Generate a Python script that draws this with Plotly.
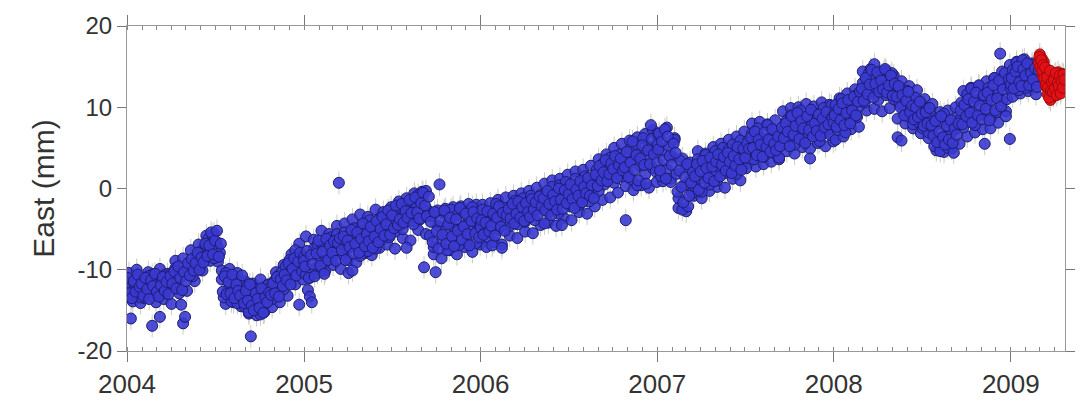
import pandas as pd
import plotly.graph_objects as go

# East component (mm). "a"/"b": 4-day samples from 1 Jan / 3 Jan; "c": 8-day samples from 5 Jan
east_2004a = [-12.3, -11.6, -16.0, -13.1, -11.8, -12.6, -10.9, -13.4, -12.0, -11.5, -12.8, -10.8,
              -12.2, -16.9, -11.6, -13.0, -11.1, -15.8, -12.4, -10.7, -12.9, -11.4, -12.1,
              -10.4, -11.9, -9.8, -11.2, -10.1, -14.3, -16.6, -15.8, -10.6, -9.9,
              -9.6, -10.8, -8.9, -9.7, -8.2, -9.4, -7.6, -8.8, -7.1,
              -6.2, -7.8, -5.7, -8.6, -6.6, -7.3, -7.9,
              -11.2, -13.4, -10.4, -12.6, -11.8, -13.9, -10.9, -12.3, -14.1, -11.5, -12.8,
              -13.0, -14.6, -12.1, -15.2, -18.2, -13.7, -12.4, -14.9, -13.3, -15.5, -12.6, -14.2, -13.1, -11.9,
              -12.2, -13.6, -11.4, -12.5, -10.8, -11.9, -10.3, -12.4, -9.6, -10.9, -8.8, -10.1, -9.3, -7.6,
              -10.4, -14.3, -8.2, -9.5]
east_2004b = [-11.0, -12.9, -13.5, -11.4, -12.7, -10.6, -12.1, -11.7, -13.2, -11.0, -12.4, -13.6,
              -11.3, -12.0, -10.5, -12.7, -13.3, -11.9, -10.9, -12.6, -11.5, -13.0, -10.8,
              -11.7, -10.2, -12.3, -9.6, -11.0, -12.5, -10.3, -11.4, -9.2, -10.7,
              -8.7, -10.1, -9.2, -7.9, -10.0, -8.5, -9.1, -6.8, -8.3,
              -7.0, -5.4, -8.1, -6.4, -5.2, -8.4, -6.8,
              -12.7, -10.8, -13.0, -11.5, -12.9, -10.6, -13.5, -11.8, -12.6, -13.2, -10.7,
              -14.1, -12.6, -13.8, -11.8, -14.4, -15.0, -12.9, -13.6, -14.7, -12.3, -15.3, -13.4, -14.0, -12.8,
              -13.1, -11.7, -12.9, -10.9, -13.3, -11.2, -12.0, -10.6, -11.3, -9.2, -11.8, -9.9, -8.6, -10.7,
              -9.0, -7.9, -10.2, -8.4]
east_2004c = [-10.4, -13.9, -10.0, -14.1, -13.5, -10.3, -10.6, -14.0, -9.9, -13.6, -10.5, -14.2,
              -8.9, -12.9, -8.6, -12.6, -7.6, -11.4, -6.9, -10.1, -5.8, -8.9, -5.5, -9.0,
              -10.1, -14.2, -9.9, -14.0, -10.4, -14.5, -11.4, -15.4, -11.7, -15.6, -11.2, -15.2, -11.8,
              -14.6, -10.3, -14.0, -9.4, -13.2, -8.1, -11.8, -6.8, -11.2]
east_2005a = [-8.9, -10.6, -12.5, -13.3, -14.0, -7.4, -9.8, -6.9, -8.6, -10.2, -7.1, -9.0, -6.5, -8.3,
              -6.0, -8.4, -7.2, -5.6, 0.7,
              -6.8, -8.1, -5.4, -7.5, -10.4, -6.2, -10.1, -4.9, -7.0, -5.8, -8.3, -4.6, -6.6, -5.2, -7.7,
              -3.9, -6.0, -4.8, -7.4, -5.5, -3.7, -6.3, -4.4,
              -5.2, -3.6, -6.0, -4.1, -2.9, -5.3, -3.4, -4.7, -2.5, -5.0, -3.1, -7.3, -2.2, -4.0, -1.6,
              -3.5, -2.4, -0.8, -3.8, -1.3, -9.7, -0.3, -2.7,
              -5.8, -3.4, -7.2, -10.3, -4.6, 0.5, -6.5, -3.0, -5.1, -7.6, -4.2, -2.6, -6.1, -4.9, -3.3,
              -7.0, -5.4, -2.8, -4.5, -6.4, -3.6, -5.0, -2.3, -4.1, -6.7, -3.2, -4.8]
east_2005b = [-9.6, -7.7, -11.0, -8.2, -9.3, -10.8, -8.0, -6.4, -9.5, -7.8, -10.5, -6.2, -8.8, -7.0,
              -7.9, -6.5, -8.9, -6.7, -6.1,
              -7.6, -5.9, -8.8, -6.4, -7.2, -5.1, -8.0, -6.8, -5.4, -7.9, -6.2, -4.3, -7.1, -5.6, -6.5,
              -4.7, -7.3, -5.9, -4.0, -6.6, -5.0, -3.5, -5.8,
              -4.4, -2.7, -5.7, -3.3, -4.9, -2.1, -4.5, -3.8, -1.9, -4.2, -2.8, -3.6, -1.4, -3.0, -4.4,
              -1.1, -2.9, -3.7, -1.8, -0.5, -2.1, -3.4, -1.0,
              -4.1, -6.6, -2.9, -5.3, -7.4, -4.0, -5.7, -2.7, -6.8, -4.4, -3.6, -5.9, -7.1, -3.8, -5.2,
              -2.4, -6.3, -4.7, -3.1, -5.6, -7.0, -4.0, -2.9, -5.5, -3.7, -6.0, -4.3]
east_2005c = [-5.9, -11.0, -6.3, -10.4, -5.2, -10.1, -5.6,
              -9.4, -4.6, -9.9, -4.3, -8.8, -3.8, -9.1, -3.2, -8.0, -3.5, -8.2, -2.6, -7.3, -2.9,
              -6.9, -2.3, -7.4, -1.6, -6.1, -1.2, -6.4, -0.6, -5.1, -0.4, -5.6,
              -3.0, -8.1, -2.7, -8.6, -2.5, -7.6, -2.3, -8.1, -2.2, -7.2, -1.9, -7.8, -2.0, -6.9]
east_2006a = [-4.8, -2.6, -5.5, -3.7, -6.0, -2.9, -7.0, -4.3, -1.9, -5.1, -3.4, -7.3, -4.0, -2.4,
              -3.0, -4.6, -2.2, -3.9, -1.5, -4.4, -2.7, -3.5, -1.2, -4.1, -2.0, -3.2, -0.9, -2.8, -3.9,
              -1.4, -2.5, -0.8,
              -2.1, -4.3, -0.6, -2.9, -1.3, 0.2, -2.4, -1.0, -3.1, 0.4, -4.5, -1.7, 0.8, -0.9, -2.2, 0.1,
              -1.5, 1.2, -0.4, -2.0, 0.6, -1.1, 1.5, -0.2, -1.6, 1.0, -0.7,
              0.9, 2.3, -0.3, 1.6, 3.0, 0.5, 2.6, 1.2, 3.8, 1.9, 0.7, 3.3, 2.1, 4.2, 1.5,
              3.4, -3.9, 2.0, 4.8, 1.1, 3.6, 5.5, 0.4, 2.8, 4.4, 6.2, 1.7, 3.9, 5.1, 7.8, 2.5, 4.6, 6.6]
east_2006b = [-3.9, -5.7, -4.2, -2.8, -5.3, -4.6, -3.1, -5.8, -3.6, -2.2, -4.7, -3.0, -5.2, -3.3,
              -2.5, -3.7, -1.9, -4.3, -3.1, -1.6, -3.6, -2.3, -4.0, -1.8, -2.9, -3.5, -1.3, -2.6, -1.7,
              -3.3, -1.0, -2.2,
              -1.2, -2.7, -0.3, -1.9, -3.3, -0.8, -1.6, -2.6, 0.0, -1.4, -2.5, -0.2, -1.8, -0.7, 0.5,
              -1.3, -2.4, -0.1, -0.9, 0.9, -1.7, 0.2, -0.6, 1.3, -0.9, 0.4, -1.2,
              1.7, 0.3, 2.8, 1.0, 2.0, 3.5, 0.9, 1.8, 3.1, 2.4, 4.0, 1.3, 2.9, 3.7, 2.2,
              2.6, 4.5, 1.4, 3.2, 5.8, 2.3, 4.1, 1.0, 3.7, 5.3, 2.9, 0.6, 4.7, 3.0, 6.1, 4.2, 2.1, 5.4]
east_2006c = [-2.0, -7.2, -1.8, -6.6, -1.4, -6.9, -1.1,
              -5.8, -0.9, -6.1, -0.6, -5.3, -0.3, -5.5, 0.1, -4.5,
              0.6, -4.2, 1.0, -4.6, 1.2, -3.6, 1.7, -3.9, 2.1, -2.9, 2.3, -3.1, 2.8, -2.2,
              3.6, -1.4, 4.2, -1.1, 5.0, -0.5, 5.5,
              0.3, 5.9, -0.2, 6.3, 0.4, 6.7, 0.1, 7.2, 0.8]
east_2007a = [3.2, 6.8, 1.5, 4.6, 7.3, 2.4, 5.2, 0.8, 3.9, 6.0,
              1.8, -1.2, 3.4, -2.6, 0.4, 2.6, -2.2, 1.0, -0.6,
              2.3, 0.1, 3.6, 1.2, -0.4, 2.8, 4.1, 1.6, 0.5, 3.2, 2.0, 4.6, 1.0, 3.7, 2.4, 5.0, 1.9, 3.0,
              4.8, 2.6, 5.4, 3.5, 1.8, 4.3, 5.9, 3.1, 4.7, 2.5,
              5.9, 4.2, 6.8, 3.6, 5.3, 7.4, 4.7, 6.2, 3.9, 5.6, 7.8, 4.9, 6.5, 4.4, 7.1, 5.8, 3.8, 6.6,
              7.2, 5.6, 8.4, 6.3, 9.0, 7.5, 5.4, 8.1, 6.8, 9.6, 7.0, 5.9, 8.7, 6.4, 3.7, 7.9, 9.3, 6.7,
              8.2, 5.8, 7.6, 9.9, 6.9, 8.5, 7.3, 10.2, 8.0]
east_2007b = [4.8, 2.2, 5.8, 3.5, 1.2, 6.4, 4.0, 2.9, 5.5, 4.4,
              -0.4, 2.2, 0.2, -1.7, 1.4, 3.0, -0.9, 0.7, 2.0,
              1.5, 3.0, -0.2, 2.1, 3.4, 0.7, 2.5, 1.3, 3.8, 2.7, 0.9, 3.3, 4.2, 1.5, 2.9, 3.9, 2.2, 4.4,
              3.3, 1.9, 4.0, 2.8, 5.1, 3.6, 2.3, 4.9, 3.8, 5.6,
              4.9, 6.3, 5.0, 7.0, 4.1, 6.0, 5.4, 3.9, 6.9, 5.1, 6.0, 4.5, 7.3, 5.5, 4.7, 6.4, 5.2, 7.5,
              6.2, 8.0, 7.0, 5.2, 8.9, 6.6, 7.7, 9.3, 6.1, 8.3, 7.4, 5.6, 8.9, 7.2, 9.7, 6.4, 8.0, 7.1,
              9.1, 6.5, 8.6, 7.5, 9.4, 7.9, 6.6, 8.8, 9.2]
east_2007c = [6.6, 0.9, 7.5, 1.2, 6.2,
              -2.4, 3.7, -2.8, 3.2,
              -0.9, 4.6, -1.2, 4.3, -0.3, 5.1, 0.2, 5.5, 0.1, 6.0, 1.2, 6.4, 1.0, 7.0,
              3.1, 8.0, 2.7, 8.2, 3.0, 7.9, 3.3, 8.4, 3.6,
              9.5, 4.6, 9.9, 4.3, 10.0, 5.1, 10.4, 4.9, 10.1, 5.6, 10.6, 5.2, 10.3, 5.8]
east_2008a = [8.1, 10.3, 7.2, 9.4, 11.0, 8.6, 6.9, 9.9, 8.3, 10.8, 9.2, 11.4, 8.8, 10.1,
              11.3, 13.0, 10.6, 12.4, 14.1, 11.8, 13.5, 15.3, 12.2, 10.9, 13.8, 12.6, 14.5, 11.5, 13.1,
              12.0, 14.2, 11.0,
              12.5, 6.3, 10.4, 5.9, 11.7, 9.6, 12.0, 8.8, 10.9, 7.9, 11.2, 9.3, 8.1, 10.5, 7.4, 9.8, 8.6,
              6.9, 9.1,
              7.5, 5.2, 8.6, 6.1, 4.6, 7.9, 9.2, 6.5, 5.0, 8.1, 6.9, 4.4, 7.3, 8.8,
              8.4, 10.6, 7.5, 9.9, 11.6, 8.8, 12.3, 9.5, 7.8, 10.9, 12.7, 9.1, 11.2,
              5.5, 10.2, 12.4, 8.7, 11.3, 13.6, 9.4, 12.0, 16.6, 10.8, 13.1, 8.9, 12.6, 6.1]
east_2008b = [9.0, 7.6, 9.8, 8.4, 10.5, 7.8, 9.3, 10.9, 8.0, 9.6, 11.3, 9.0, 10.7, 11.9,
              12.3, 10.8, 13.6, 11.6, 12.8, 14.6, 11.2, 12.9, 14.3, 11.9, 13.3, 12.2, 14.7, 11.8, 12.7,
              13.9, 11.4, 12.9,
              11.3, 12.6, 10.0, 11.5, 9.0, 10.8, 11.9, 9.4, 10.2, 8.5, 10.0, 8.8, 10.7, 9.2, 7.7, 9.4,
              8.0, 9.9, 7.8,
              6.5, 8.3, 5.7, 7.0, 8.9, 6.3, 5.4, 7.7, 6.0, 8.4, 5.6, 7.4, 6.6, 8.0,
              9.6, 7.9, 10.3, 8.9, 11.0, 9.3, 8.1, 10.7, 11.8, 9.0, 10.2, 8.5, 11.5,
              9.8, 11.8, 8.4, 10.9, 12.7, 9.6, 11.1, 13.3, 10.1, 12.2, 14.2, 11.0, 13.5, 12.3]
east_2008c = [6.0, 11.1, 6.4, 11.7, 7.3, 12.2, 7.6,
              14.4, 9.6, 14.7, 9.8, 14.3, 9.5, 14.5, 9.9, 13.9,
              8.6, 13.2, 8.0, 12.6, 7.4, 12.1, 6.8, 11.0, 6.2, 10.4,
              4.7, 9.4, 4.5, 9.6, 4.9, 10.0, 5.5,
              12.0, 6.4, 12.4, 6.9, 12.6, 7.3,
              13.2, 7.4, 13.6, 8.1, 14.4, 9.5, 15.2]
east_2009a = [12.8, 14.6, 13.2, 15.5, 12.1, 14.0, 15.8, 13.5, 12.4, 14.9, 13.7, 15.2, 12.9, 14.3, 13.0]
east_2009b = [13.6, 12.3, 14.4, 15.0, 13.1, 12.6, 14.7, 13.9, 15.4, 12.7, 14.2, 13.4, 14.8, 12.5, 14.5]
east_2009c = [11.3, 15.6, 11.7, 15.9, 12.0, 15.4, 11.6]
# most recent solutions (red): 2-day samples from 28 Feb 2009 ("a") and 1 Mar 2009 ("b")
east_red_a = [15.4, 16.5, 14.8, 16.0, 13.9, 15.6, 14.4, 12.6, 14.2, 11.6, 13.3, 12.2, 10.9, 13.8,
              12.5, 11.4, 14.0, 12.9, 13.6, 11.8, 14.3, 12.7, 13.5, 12.1, 14.1, 13.2, 12.8]
east_red_b = [16.2, 15.0, 15.8, 14.5, 15.2, 13.6, 14.9, 12.9, 13.7, 12.4, 11.2, 14.5, 12.0, 13.1,
              11.9, 13.4, 12.3, 14.2, 11.5, 13.0, 12.6, 13.9, 11.7, 13.3, 12.4, 14.0, 13.4]
ERR_MM = 1.4
year_labels = ["2004", "2005", "2006", "2007", "2008", "2009"]
y_ticks = [-20, -10, 0, 10, 20]
y_labels = ["-20", "-10", "0", "10", "20"]

series = [(2004, east_2004a, east_2004b, east_2004c), (2005, east_2005a, east_2005b, east_2005c),
          (2006, east_2006a, east_2006b, east_2006c), (2007, east_2007a, east_2007b, east_2007c),
          (2008, east_2008a, east_2008b, east_2008c), (2009, east_2009a, east_2009b, east_2009c)]
blue_x, blue_y = [], []
for year, va, vb, vc in series:
    blue_x += list(pd.date_range(f"{year}-01-05", periods=len(vc), freq="8D"))
    blue_y += vc
    blue_x += list(pd.date_range(f"{year}-01-01", periods=len(va), freq="4D"))
    blue_y += va
    blue_x += list(pd.date_range(f"{year}-01-03", periods=len(vb), freq="4D"))
    blue_y += vb
red_x = (list(pd.date_range("2009-02-28", periods=len(east_red_a), freq="2D"))
         + list(pd.date_range("2009-03-01", periods=len(east_red_b), freq="2D")))
red_y = east_red_a + east_red_b

fig = go.Figure()
errstyle = dict(type="constant", value=ERR_MM, color="#c8cec0", thickness=1, width=0)
fig.add_trace(go.Scatter(x=blue_x, y=blue_y, mode="markers",
                         marker=dict(size=11, color="rgba(58,58,208,0.9)",
                                     line=dict(color="#1c1c72", width=1)),
                         error_y=errstyle))
fig.add_trace(go.Scatter(x=red_x, y=red_y, mode="markers",
                         marker=dict(size=11, color="rgba(226,18,24,0.95)",
                                     line=dict(color="#a00808", width=1)),
                         error_y=errstyle))

fig.update_layout(width=1087, height=411, margin=dict(l=127, r=19, t=19, b=58),
                  plot_bgcolor="white", paper_bgcolor="white", showlegend=False,
                  font=dict(family="Liberation Sans", color="#333333"))
fig.update_xaxes(type="date", range=["2004-01-01", "2009-04-23"],
                 tickvals=[f"{y}-01-01" for y in year_labels], ticktext=year_labels,
                 ticks="outside", ticklen=10, tickcolor="#777777", tickwidth=1,
                 showline=True, linecolor="#999999", linewidth=1, mirror="ticks",
                 showgrid=False, zeroline=False, tickfont=dict(size=26),
                 minor=dict(dtick="M1", tick0="2004-01-01", ticks="inside", ticklen=4,
                            tickcolor="#888888", showgrid=False))
fig.update_yaxes(range=[-20, 20], tickvals=y_ticks, ticktext=y_labels, ticks="outside", ticklen=9,
                 tickcolor="#777777", showline=True, linecolor="#999999", linewidth=1,
                 mirror="ticks", showgrid=False, zeroline=False, tickfont=dict(size=24),
                 title=dict(text="East (mm)", font=dict(size=30), standoff=14))

fig.write_html("out.html", config={"displayModeBar": False},
               post_script="document.body.style.margin='0';")
